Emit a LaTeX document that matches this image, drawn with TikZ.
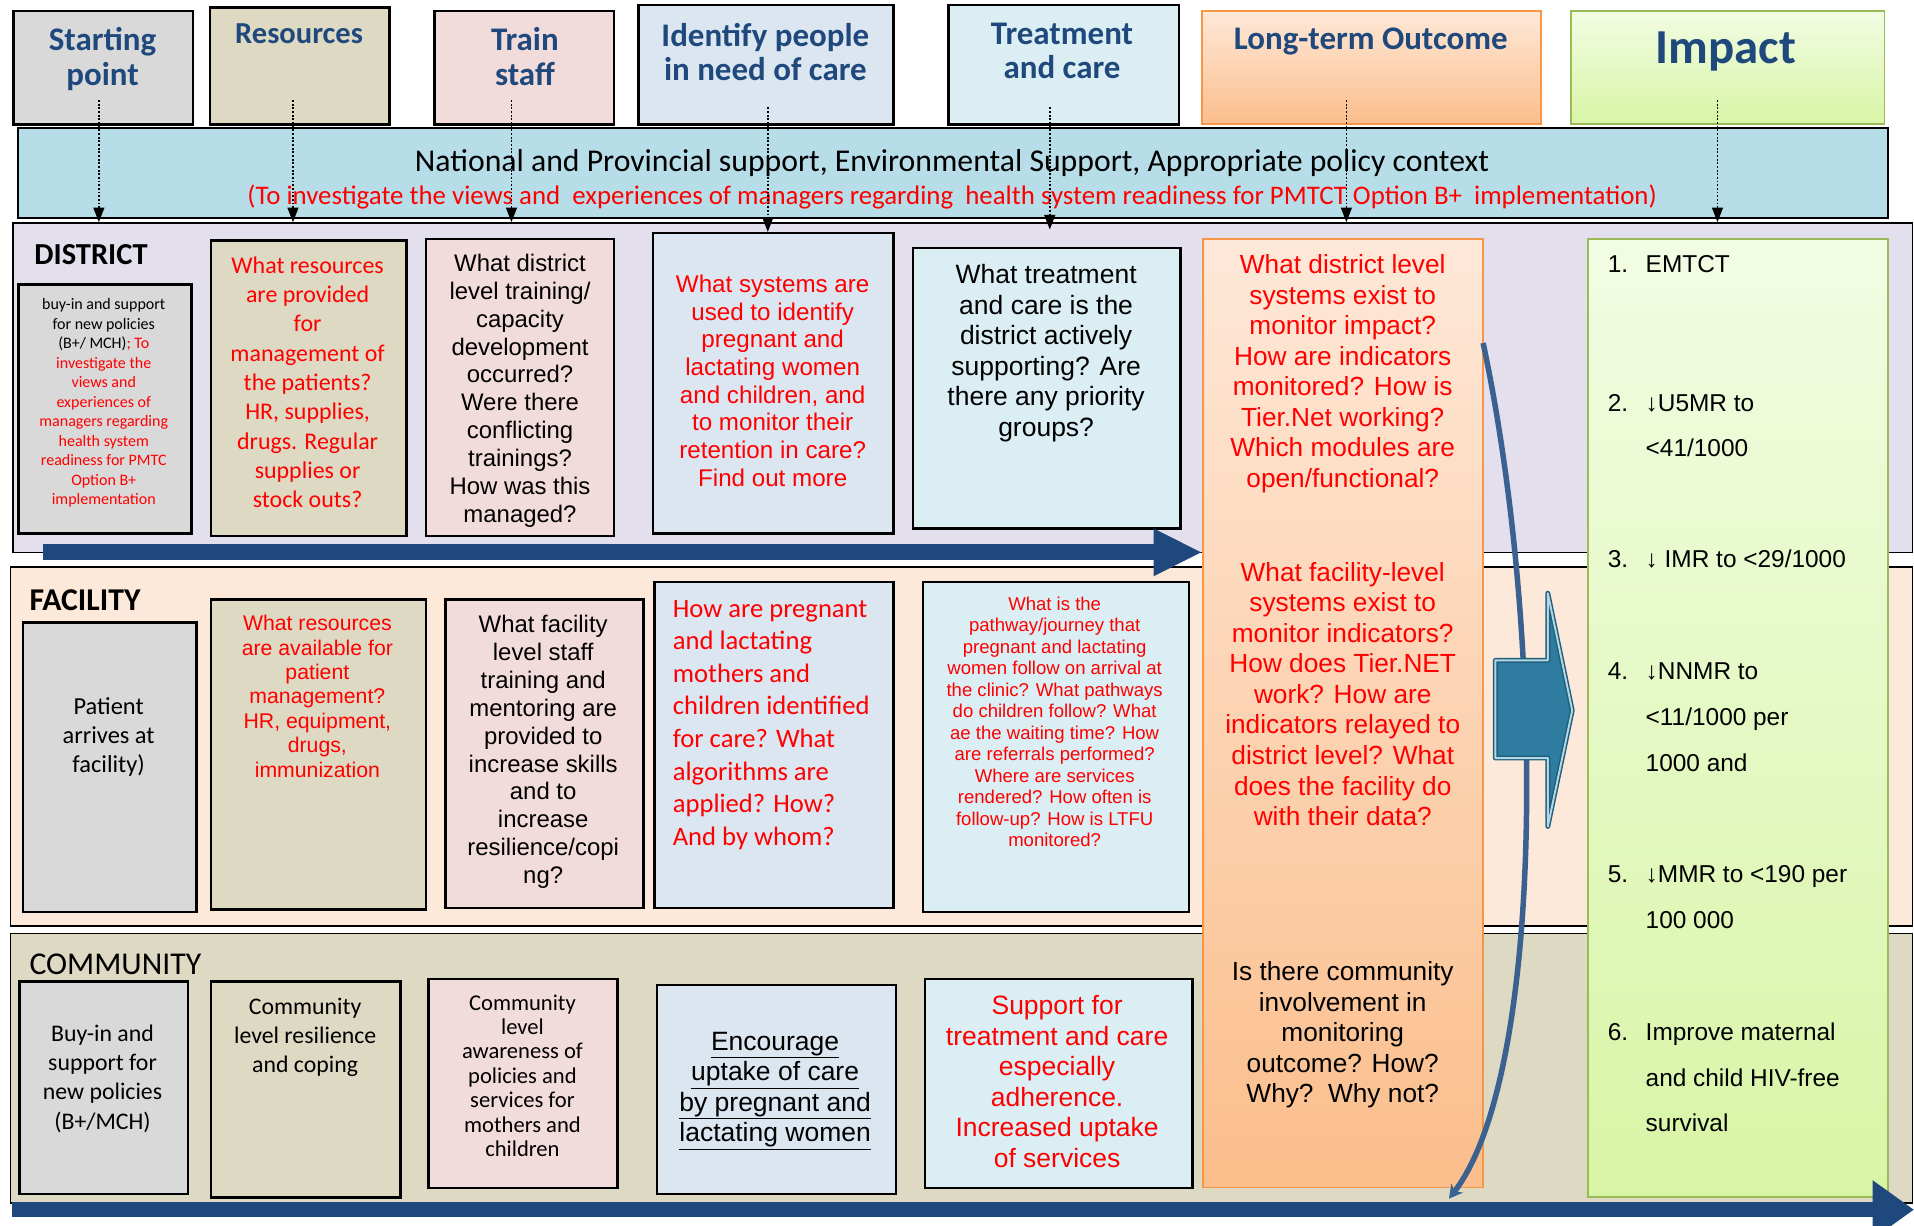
\documentclass[tikz,border=0pt]{standalone}
\usepackage{fontspec}
\setmainfont{Carlito}
\newfontfamily\ari{Liberation Sans}
\usetikzlibrary{arrows.meta,calc}
\definecolor{cgray}{HTML}{D9D9D9}
\definecolor{ctan}{HTML}{DDD9C3}
\definecolor{cpink}{HTML}{F2DCDB}
\definecolor{clb}{HTML}{DCE6F1}
\definecolor{clb2}{HTML}{DAEEF3}
\definecolor{cband}{HTML}{B7DEE8}
\definecolor{cdist}{HTML}{E4DFEC}
\definecolor{cfac}{HTML}{FDE9D9}
\definecolor{ccom}{HTML}{DDD9C3}
\definecolor{ctitle}{HTML}{1F497D}
\definecolor{carrow}{HTML}{1F497D}
\definecolor{cred}{HTML}{FF0000}
\definecolor{corb}{HTML}{F79646}
\definecolor{cor1}{HTML}{FEE8D8}
\definecolor{cor2}{HTML}{FBBE8C}
\definecolor{cgrb}{HTML}{9BBB59}
\definecolor{cgr1}{HTML}{F2FCE3}
\definecolor{cgr2}{HTML}{D8F5A6}
\definecolor{ccurve}{HTML}{3A6190}
\definecolor{cblock}{HTML}{2E7CA0}
\definecolor{cblockd}{HTML}{1E5F7C}
\definecolor{cblight}{HTML}{B5D6E4}
\newcommand{\boxat}[6][]{\node[box,#1,minimum width={(#5-#3)*1pt},minimum height={(#6-#4)*1pt}] (#2) at (#3,#4) {};}
\begin{document}
\begin{tikzpicture}[x=1pt,y=-1pt,
 box/.style={rectangle,draw=black,line width=2pt,inner sep=0pt,anchor=north west},
 band/.style={line width=1.4pt},
 tx/.style={inner sep=0pt,align=center,anchor=north},
 cf/.style 2 args={font={\fontsize{#1}{#2}\selectfont}},
 af/.style 2 args={font={\ari\fontsize{#1}{#2}\selectfont}},
 title/.style={tx,text=ctitle,font={\bfseries\fontsize{#1}{28.5}\selectfont}},
 redtx/.style={text=cred},
 rowlab/.style={inner sep=0pt,anchor=north west},
 dotarr/.style={dash pattern=on 1.5pt off 1.5pt,line width=1.2pt,-{Triangle[length=12pt,width=9pt]}},
 bigarr/.style={draw=carrow,line width=13pt,-{Triangle[length=40pt,width=36pt]}},
 bigarrb/.style={draw=carrow,line width=12pt,-{Triangle[length=34pt,width=46pt]}},
 curv/.style={draw=ccurve,line width=4.5pt,-{Stealth[length=11pt,width=12pt]}},
 imptx/.style={inner sep=0pt,anchor=base west,font={\ari\fontsize{20}{24}\selectfont}},
]
\useasboundingbox (0,0) rectangle (1568,1004);

% header boxes
\boxat[fill=cgray]{h1}{10}{8}{157}{101}
\boxat[fill=ctan]{h2}{171}{5}{318}{101}
\boxat[fill=cpink]{h3}{355}{8}{502}{101}
\boxat[fill=clb]{h4}{522}{3}{731}{101}
\boxat[fill=clb2]{h5}{776}{3}{965}{101}
\boxat[draw=corb,line width=1.5pt,top color=cor1,bottom color=cor2]{h6}{984}{8}{1262}{101}
\boxat[draw=cgrb,line width=1.5pt,top color=cgr1,bottom color=cgr2]{h7}{1286}{8}{1543}{101}
\node[title=27] (h1t) at (84,22.5) {Starting\\point};
\node[title=25] (h2t) at (245,19.3) {Resources};
\node[title=27] (h3t) at (430,22.5) {Train\\staff};
\node[title=27] (h4t) at (627,18.5) {Identify people\\in need of care};
\node[title=27] (h5t) at (870,18.5) {Treatment\\and care};
\node[title=27] (h6t) at (1123,22.5) {Long-term Outcome};
\node[title=40] (h7t) at (1414,26) {Impact};

% support band
\boxat[band,fill=cband]{bnd}{14}{104}{1546}{178}
\node[tx,cf={26}{30}] (bt1) at (780,121.9) {National and Provincial support, Environmental Support, Appropriate policy context};
\node[tx,cf={22}{26},redtx] (bt2) at (780,151.3) {(To investigate the views and\ \ experiences of managers regarding\ \ health system readiness for PMTCT Option B+\ \ implementation)};

% row bands
\boxat[band,fill=cdist]{dist}{10}{182}{1566}{452}
\boxat[band,fill=cfac]{fac}{8}{464}{1566}{758}
\boxat[band,fill=ccom]{com}{8}{764}{1566}{985}
\node[rowlab,font={\bfseries\fontsize{25}{30}\selectfont}] (distl) at (28,200) {DISTRICT};
\node[rowlab,font={\bfseries\fontsize{26}{30}\selectfont}] (facl) at (24,483) {FACILITY};
\node[rowlab,font={\fontsize{26}{30}\selectfont}] (coml) at (24,781) {COMMUNITY};

% district boxes
\boxat[fill=cgray]{d1}{14}{232}{156}{436}
\node[tx,cf={13.1}{16}] (d1t) at (85,244.4) {buy-in and support\\for new policies\\(B+/ MCH)\textcolor{cred}{; To}\\\textcolor{cred}{investigate the}\\\textcolor{cred}{views and}\\\textcolor{cred}{experiences of}\\\textcolor{cred}{managers regarding}\\\textcolor{cred}{health system}\\\textcolor{cred}{readiness for PMTC}\\\textcolor{cred}{Option B+}\\\textcolor{cred}{implementation}};
\boxat[fill=ctan]{d2}{172}{196}{332}{438}
\node[tx,cf={19.6}{24},redtx] (d2t) at (252,210.1) {What resources\\are provided\\for\\management of\\the patients?\\HR, supplies,\\drugs. Regular\\supplies or\\stock outs?};
\boxat[fill=cpink]{d3}{348}{195}{502}{438}
\node[tx,af={19.6}{22.8}] (d3t) at (426,208.1) {What district\\level training/\\capacity\\development\\occurred?\\Were there\\conflicting\\trainings?\\How was this\\managed?};
\boxat[fill=clb]{d4}{534}{190}{731}{436}
\node[tx,af={19.8}{22.7},redtx] (d4t) at (633,225) {What systems are\\used to identify\\pregnant and\\lactating women\\and children, and\\to monitor their\\retention in care?\\Find out more};
\boxat[fill=clb2]{d5}{747}{202}{966}{432}
\node[tx,af={21.7}{25}] (d5t) at (857,216.4) {What treatment\\and care is the\\district actively\\supporting? Are\\there any priority\\groups?};

% facility boxes
\boxat[fill=cgray]{f1}{18}{509}{160}{746}
\node[tx,cf={20}{24}] (f1t) at (89,571) {Patient\\arrives at\\facility)};
\boxat[fill=ctan]{f2}{172}{490}{348}{744}
\node[tx,af={17.4}{20},redtx] (f2t) at (260,503.9) {What resources\\are available for\\patient\\management?\\HR, equipment,\\drugs,\\immunization};
\boxat[fill=cpink]{f3}{364}{490}{526}{743}
\node[tx,af={19.6}{22.8}] (f3t) at (445,504.1) {What facility\\level staff\\training and\\mentoring are\\provided to\\increase skills\\and to\\increase\\resilience/copi\\ng?};
\boxat[fill=clb]{f4}{535}{476}{731}{743}
\node[tx,anchor=north west,align=left,cf={21.8}{26.7},redtx] (f4t) at (551,491.4) {How are pregnant\\and lactating\\mothers and\\children identified\\for care? What\\algorithms are\\applied? How?\\And by whom?};
\boxat[fill=clb2]{f5}{755}{476}{973}{746}
\node[tx,af={15.2}{17.6},redtx] (f5t) at (864,488.7) {What is the\\pathway/journey that\\pregnant and lactating\\women follow on arrival at\\the clinic? What pathways\\do children follow? What\\ae the waiting time? How\\are referrals performed?\\Where are services\\rendered? How often is\\follow-up? How is LTFU\\monitored?};

% community boxes
\boxat[fill=cgray]{c1}{15}{803}{153}{977}
\node[tx,cf={19.5}{24}] (c1t) at (84,839.2) {Buy-in and\\support for\\new policies\\(B+/MCH)};
\boxat[fill=ctan]{c2}{172}{803}{327}{980}
\node[tx,cf={19.5}{24}] (c2t) at (250,817.2) {Community\\level resilience\\and coping};
\boxat[fill=cpink]{c3}{350}{801}{505}{972}
\node[tx,cf={18.5}{20}] (c3t) at (428,814.5) {Community\\level\\awareness of\\policies and\\services for\\mothers and\\children};
\boxat[fill=clb]{c4}{537}{806}{733}{977}
\node[tx,af={21.7}{25}] (c4t) at (635,845.4) {\underline{Encourage}\\\underline{uptake of care}\\\underline{by pregnant and}\\\underline{lactating women}};
\boxat[fill=clb2]{c5}{757}{801}{976}{972}
\node[tx,af={21.7}{25},redtx] (c5t) at (866,815.4) {Support for\\treatment and care\\especially\\adherence.\\Increased uptake\\of services};

% dotted arrows from headers
\coordinate (a1) at (81,82);
\coordinate (a2) at (240,82);
\coordinate (a3) at (419,82);
\coordinate (a4) at (629,88);
\coordinate (a5) at (860,88);
\coordinate (a6) at (1103,82);
\coordinate (a7) at (1407,82);
\draw[dotarr] (a1) -- (a1 |- dist.north);
\draw[dotarr] (a2) -- (a2 |- dist.north);
\draw[dotarr] (a3) -- (a3 |- dist.north);
\draw[dotarr] (a4) -- (a4 |- d4.north);
\draw[dotarr] (a5) -- ($(a5 |- dist.north)+(0,6)$);
\draw[dotarr] (a6) -- (a6 |- dist.north);
\draw[dotarr] (a7) -- (a7 |- dist.north);

% outcome and impact columns
\boxat[draw=corb,line width=1.5pt,top color=cor1,bottom color=cor2]{lto}{985}{195}{1214}{972}
\boxat[draw=cgrb,line width=1.5pt,top color=cgr1,bottom color=cgr2]{impc}{1300}{195}{1546}{980}
\node[tx,af={21.5}{25},redtx] (o1) at (1100,208.5) {What district level\\systems exist to\\monitor impact?\\How are indicators\\monitored? How is\\Tier.Net working?\\Which modules are\\open/functional?};
\node[tx,af={21.5}{25},redtx] (o2) at (1100,460.5) {What facility-level\\systems exist to\\monitor indicators?\\How does Tier.NET\\work? How are\\indicators relayed to\\district level? What\\does the facility do\\with their data?};
\node[tx,af={21.5}{25}] (o3) at (1100,787.5) {Is there community\\involvement in\\monitoring\\outcome? How?\\Why?\ \ Why not?};

\node[imptx] (n1) at (1317,223) {1.};
\node[imptx] (i1a) at (1348,223) {EMTCT};
\node[imptx] (n2) at (1317,337) {2.};
\node[imptx] (i2a) at (1348,337) {↓U5MR to};
\node[imptx] (i2b) at (1348,374) {<41/1000};
\node[imptx] (n3) at (1317,465) {3.};
\node[imptx] (i3a) at (1348,465) {↓ IMR to <29/1000};
\node[imptx] (n4) at (1317,557) {4.};
\node[imptx] (i4a) at (1348,557) {↓NNMR to};
\node[imptx] (i4b) at (1348,594) {<11/1000 per};
\node[imptx] (i4c) at (1348,632) {1000 and};
\node[imptx] (n5) at (1317,723) {5.};
\node[imptx] (i5a) at (1348,723) {↓MMR to <190 per};
\node[imptx] (i5b) at (1348,761) {100 000};
\node[imptx] (n6) at (1317,852) {6.};
\node[imptx] (i6a) at (1348,852) {Improve maternal};
\node[imptx] (i6b) at (1348,890) {and child HIV-free};
\node[imptx] (i6c) at (1348,927) {survival};

% curved arrow and block arrow
\coordinate (cs) at (1215,281);
\coordinate (ce) at (1187,982);
\draw[curv] (cs) .. controls (1266,520) and (1266,880) .. (ce);
\filldraw[fill=cblock,draw=cblockd,line width=4pt,line join=round] (1225,541) -- (1268,541) -- (1268,486) -- (1288,582) -- (1268,677) -- (1268,621) -- (1225,621) -- cycle;
\draw[draw=cblight,line width=1.6pt,line join=round] (1225,541) -- (1268,541) -- (1268,486) -- (1288,582) -- (1268,677) -- (1268,621) -- (1225,621) -- cycle;

% big flow arrows
\coordinate (da) at (35,452.5);
\draw[bigarr] (da) -- (da -| lto.west);
\coordinate (ba) at (10,991);
\coordinate (bb) at (1568,991);
\draw[bigarrb] (ba) -- (bb);
\end{tikzpicture}
\end{document}
